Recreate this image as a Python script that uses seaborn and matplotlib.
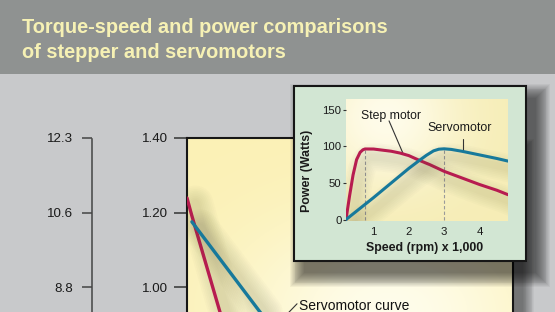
import numpy as np
import matplotlib
matplotlib.use("Agg")
import matplotlib.pyplot as plt
import matplotlib.patheffects as pe
from matplotlib.patches import Rectangle
import seaborn as sns

# ---------------- data ----------------
title_lines = ["Torque-speed and power comparisons", "of stepper and servomotors"]

torque_ticks_nm = [1.40, 1.20, 1.00]
torque_labels_nm = ["1.40", "1.20", "1.00"]
torque_labels_lbin = ["12.3", "10.6", "8.8"]

step_torque_speed = [0, 60, 450]          # rpm
step_torque = [1.239, 1.191, 0.899]       # N-m
servo_torque_speed = [60, 1010]
servo_torque = [1.175, 0.900]
servo_curve_label = "Servomotor curve"

step_power_speed = [0.22, 0.32, 0.42, 0.52, 0.62, 0.70, 0.76, 1.0, 1.5, 1.75,
                    2.0, 2.3, 2.6, 3.0, 3.5, 4.0, 4.5, 4.81]          # x 1,000 rpm
step_power = [0, 32, 61, 82, 92, 95.5, 96.6, 96.5, 93.5, 91,
              87.5, 81, 75, 66, 57, 48, 40, 34]                       # W
servo_power_speed = [0.22, 1.0, 1.5, 2.0, 2.3, 2.5, 2.7, 2.85, 3.0, 3.2,
                     3.5, 4.0, 4.5, 4.81]
servo_power = [0, 30, 50, 70, 81, 88, 94, 96.3, 96.8, 96,
               93.5, 88.5, 83.5, 80]
power_ticks = [0, 50, 100, 150]
speed_ticks = [1, 2, 3, 4]
step_peak_speed = 0.76
servo_peak_speed = 3.0
step_label = "Step motor"
servo_label = "Servomotor"
power_ylabel = "Power (Watts)"
speed_xlabel = "Speed (rpm) x 1,000"

RED = "#B71C50"
BLUE = "#17799B"

sns.set_theme(style="white")
plt.rcParams["font.family"] = ["Liberation Sans", "DejaVu Sans"]

W, H = 555, 312
fig = plt.figure(figsize=(W / 100, H / 100), dpi=100)
fig.patch.set_facecolor("#C8C9CB")


def fx(px):
    return px / W


def fy(py):
    return 1 - py / H


# title banner
fig.add_artist(Rectangle((0, fy(74)), 1, 74 / H, transform=fig.transFigure,
                         facecolor="#8F9291", edgecolor="none", zorder=0))
fig.text(fx(22), fy(33), title_lines[0], fontsize=14.4, fontweight="bold",
         color="#F6F1B4", va="baseline", ha="left")
fig.text(fx(22), fy(57.5), title_lines[1], fontsize=14.4, fontweight="bold",
         color="#F6F1B4", va="baseline", ha="left")


def radial(ax, base, light, cx, cy, rx, ry, z=0):
    n = 200
    yy, xx = np.mgrid[0:1:n * 1j, 0:1:n * 1j]
    f = np.exp(-(((xx - cx) / rx) ** 2 + ((yy - cy) / ry) ** 2))
    b = np.array(matplotlib.colors.to_rgb(base))
    l = np.array(matplotlib.colors.to_rgb(light))
    img = b[None, None, :] * (1 - f[..., None]) + l[None, None, :] * f[..., None]
    ax.imshow(img, extent=[0, 1, 0, 1], transform=ax.transAxes, origin="lower",
              aspect="auto", zorder=z, interpolation="bilinear")


def soft_shadow(x0, y0, x1, y1, dx, dy, z, layers=18, step=1.2, alpha=0.035):
    # soft drop shadow from stacked translucent rectangles (pixel box)
    for i in range(layers):
        g = i * step
        fig.add_artist(Rectangle((fx(x0 + dx - g), fy(y1 + dy + g)),
                                 (x1 - x0 + 2 * g) / W, (y1 - y0 + 2 * g) / H,
                                 transform=fig.transFigure, facecolor="black",
                                 edgecolor="none", alpha=alpha, zorder=z))


def line_shadow(offset, widths, alpha):
    return [pe.SimpleLineShadow(offset=offset, shadow_color="#55553a",
                                alpha=alpha, linewidth=w) for w in widths] + [pe.Normal()]


# ---------------- main torque chart ----------------
box_l, box_r, box_t = 187, 513, 138
ymin, ymax = 0.933, 1.40
soft_shadow(box_l, box_t, box_r, 340, 10, 12, z=0.5, layers=14, step=0.85, alpha=0.035)

ax = fig.add_axes([fx(box_l), 0, (box_r - box_l) / W, (H - box_t) / H], zorder=1)
radial(ax, "#FBF1B6", "#FFFDEB", 0.62, 0.0, 0.45, 0.55)
main_shadow = line_shadow((6, -4), np.arange(26, 4, -2.5), 0.018)
sns.lineplot(x=step_torque_speed, y=step_torque, ax=ax, color=RED, linewidth=2.4,
             estimator=None, sort=False, path_effects=main_shadow, zorder=3)
sns.lineplot(x=servo_torque_speed, y=servo_torque, ax=ax, color=BLUE, linewidth=2.4,
             estimator=None, sort=False, path_effects=main_shadow, zorder=3)
ax.set_xlim(0, 4000)
ax.set_ylim(ymin, ymax)
ax.set_xticks([])
ax.set_yticks(torque_ticks_nm)
ax.set_yticklabels(torque_labels_nm)
ax.tick_params(axis="y", left=True, length=9.4, width=1.1, color="#333333",
               pad=4.3, labelsize=9.6, labelcolor="#1a1a1a")
for s in ("left", "top", "right"):
    ax.spines[s].set_visible(True)
    ax.spines[s].set_color("#161616")
    ax.spines[s].set_linewidth(1.5)
ax.spines["bottom"].set_visible(False)
ax.set_xlabel("")
ax.set_ylabel("")
ax.text(1374, 0.9385, servo_curve_label, fontsize=10, color="#111111",
        ha="left", va="baseline", clip_on=False, zorder=4)
ax.plot([1350, 1240], [0.955, 0.930], color="#333333", linewidth=0.8, zorder=4)

# second (lb-in) scale
ax0 = fig.add_axes([fx(92), 0, 0.001, (H - box_t) / H], zorder=1)
ax0.set_facecolor("none")
ax0.set_ylim(ymin, ymax)
ax0.set_xticks([])
ax0.set_yticks(torque_ticks_nm)
ax0.set_yticklabels(torque_labels_lbin)
ax0.tick_params(axis="y", left=True, length=7.2, width=1.1, color="#444444",
                pad=6.5, labelsize=9.6, labelcolor="#1a1a1a")
for s in ("top", "right", "bottom"):
    ax0.spines[s].set_visible(False)
ax0.spines["left"].set_visible(True)
ax0.spines["left"].set_color("#444444")
ax0.spines["left"].set_linewidth(1.1)
ax0.spines["left"].set_bounds(ymin - 0.1, 1.397)

# ---------------- inset power chart ----------------
gb_l, gb_t, gb_r, gb_b = 294, 86, 526, 261
soft_shadow(gb_l, gb_t, gb_r, gb_b, 10, 12, z=5, layers=16, step=0.95, alpha=0.045)
fig.add_artist(Rectangle((fx(gb_l), fy(gb_b)), (gb_r - gb_l) / W, (gb_b - gb_t) / H,
                         transform=fig.transFigure, facecolor="#D2E6D3",
                         edgecolor="#161616", linewidth=1.5, zorder=6))

axin = fig.add_axes([fx(346), fy(221), 162 / W, 122 / H], zorder=7)
radial(axin, "#F6EDB6", "#FFFCEA", 0.25, 0.85, 0.45, 0.55)
axin.set_xlim(0.22, 4.81)
axin.set_ylim(-2, 165)
axin.vlines([step_peak_speed], 0, max(step_power), colors="#9a9a9a",
            linestyles=(0, (3, 2)), linewidth=0.8, zorder=2)
axin.vlines([servo_peak_speed], 0, max(servo_power), colors="#9a9a9a",
            linestyles=(0, (3, 2)), linewidth=0.8, zorder=2)
in_shadow = line_shadow((4, -6), np.arange(20, 4, -2.5), 0.02)
sns.lineplot(x=step_power_speed, y=step_power, ax=axin, color=RED, linewidth=2.2,
             estimator=None, sort=False, path_effects=in_shadow, zorder=3)
sns.lineplot(x=servo_power_speed, y=servo_power, ax=axin, color=BLUE, linewidth=2.2,
             estimator=None, sort=False, path_effects=in_shadow, zorder=3)
for s in axin.spines.values():
    s.set_visible(False)
axin.set_yticks(power_ticks)
axin.set_xticks(speed_ticks)
axin.tick_params(axis="y", left=True, length=2.3, width=0.8, color="#333333",
                 pad=1, labelsize=8.2, labelcolor="#1a1a1a")
axin.tick_params(axis="x", bottom=False, length=0, pad=4, labelsize=8.2,
                 labelcolor="#1a1a1a")
axin.set_xlabel(speed_xlabel, fontsize=8.9, fontweight="bold", color="#1a1a1a")
axin.xaxis.set_label_coords(0.485, -0.221)
axin.xaxis.label.set_va("center")
axin.set_ylabel(power_ylabel, fontsize=8.9, fontweight="bold", color="#1a1a1a")
axin.yaxis.set_label_coords(-0.241, 0.41)
axin.yaxis.label.set_va("center")

axin.text(1.50, 142, step_label, fontsize=8.8, color="#1a1a1a", ha="center", va="center")
axin.plot([1.44, 1.84], [135, 90], color="#333333", linewidth=0.8)
axin.text(3.45, 125, servo_label, fontsize=8.9, color="#1a1a1a", ha="center", va="center")
axin.plot([3.54, 3.54], [110, 94], color="#333333", linewidth=0.8)

fig.savefig("out.png", dpi=100, facecolor=fig.get_facecolor())
